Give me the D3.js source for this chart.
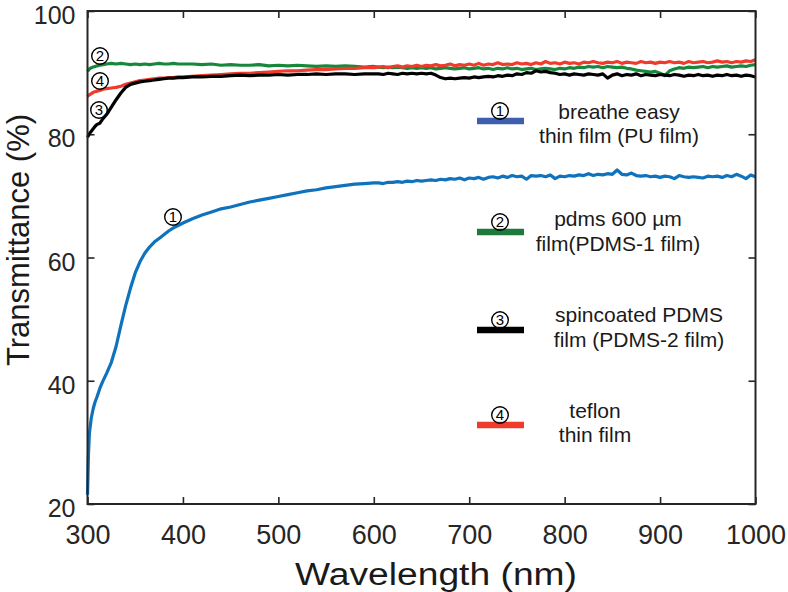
<!DOCTYPE html>
<html><head><meta charset="utf-8">
<script src="https://cdn.jsdelivr.net/npm/d3@7"></script>
<style>body{margin:0;background:#fff}svg{display:block}</style>
</head><body>
<svg id="c" width="788" height="592"></svg>
<script>
const wavelength = [300,301,302,304,306,308,310,313,316,320,325,330,335,340,345,350,355,360,365,370,375,380,385,390,395,400,
410,420,430,440,450,460,470,480,490,500,510,520,530,540,550,560,570,580,590,600,
605,610,615,620,625,630,635,640,645,650,655,660,665,670,675,680,685,690,695,700,
705,710,715,720,725,730,735,740,745,750,755,760,765,770,775,780,785,790,795,800,
805,810,815,820,825,830,835,840,845,850,855,860,865,870,875,880,885,890,895,900,
905,910,915,920,925,930,935,940,945,950,955,960,965,970,975,980,985,990,995,1000];

const puFilm = [21.5,28,31.5,34,35.5,36.6,37.4,38.8,39.9,41.2,43.0,45.6,49.0,52.2,55.0,57.5,59.3,60.7,61.7,62.5,63.1,63.7,64.3,64.8,65.2,65.6,
66.3,66.9,67.4,67.9,68.2,68.6,69.0,69.3,69.6,69.9,70.2,70.5,70.8,71.0,71.3,71.5,71.7,71.9,72.0,72.1,
72.1,72.0,72.2,72.2,72.3,72.2,72.4,72.3,72.5,72.4,72.5,72.6,72.5,72.7,72.6,72.8,72.7,72.9,72.6,72.9,
72.8,73.0,72.7,73.0,73.1,72.9,73.2,73.0,73.3,73.1,73.2,72.7,73.3,73.2,73.3,73.1,73.4,72.8,73.2,73.1,
73.3,73.2,73.4,73.3,73.6,73.3,73.5,73.4,73.6,73.5,74.2,73.5,73.4,73.7,73.3,73.2,73.3,73.1,73.2,73.0,
73.2,73.1,72.8,73.3,73.1,73.0,73.1,73.0,72.9,73.2,73.1,73.2,73.0,73.3,73.1,73.5,73.2,72.8,73.4,73.1];

const pdms1Film = [90.2,90.4,90.6,90.8,90.9,91.0,91.1,91.2,91.3,91.4,91.5,91.4,91.5,91.4,91.3,91.4,91.3,91.4,91.3,91.4,91.5,91.4,91.4,91.5,91.4,91.4,
91.4,91.3,91.4,91.2,91.3,91.2,91.2,91.3,91.1,91.2,91.1,91.2,91.1,91.0,91.1,91.0,91.1,91.0,90.9,91.0,
90.9,90.8,90.9,90.8,90.9,90.8,90.7,90.8,90.7,90.8,90.7,90.8,90.6,90.7,90.8,90.7,90.6,90.7,90.8,90.6,
90.7,90.8,90.6,90.7,90.5,90.7,90.6,90.8,90.6,90.7,90.5,90.6,90.7,90.5,90.6,90.7,90.6,90.5,90.7,90.6,
90.8,90.7,90.9,90.8,91.0,90.9,91.0,90.8,91.0,90.9,90.8,90.9,90.7,90.6,90.4,90.3,90.2,90.1,90.2,89.9,
89.5,90.3,90.6,90.8,90.7,90.9,90.8,90.9,91.0,90.8,91.0,90.9,91.0,91.1,90.9,91.0,91.1,91.0,91.2,91.3];

const pdms2Film = [79.5,79.8,80.1,80.5,80.9,81.3,81.6,81.8,82.5,83.2,84.4,85.6,86.7,87.6,88.1,88.3,88.5,88.6,88.7,88.8,88.9,89.0,89.1,89.1,89.2,89.2,
89.3,89.3,89.4,89.4,89.5,89.6,89.5,89.6,89.6,89.7,89.6,89.7,89.7,89.8,89.7,89.8,89.8,89.7,89.8,89.8,
89.8,89.7,89.9,89.8,89.7,89.9,89.8,89.9,89.8,89.9,89.8,89.9,89.6,89.2,89.0,89.1,89.0,89.1,89.2,89.1,
89.3,89.2,89.3,89.4,89.3,89.5,89.4,89.6,89.5,89.8,89.7,90.0,89.9,90.3,90.1,90.2,90.0,89.9,89.7,89.8,
89.6,89.8,89.7,89.6,89.8,89.7,89.6,89.8,89.1,89.6,89.8,89.5,89.7,89.6,89.8,89.5,89.7,89.6,89.5,89.7,
89.6,89.5,89.7,89.6,89.4,89.6,89.5,89.7,89.5,89.6,89.4,89.6,89.5,89.7,89.5,89.6,89.4,89.6,89.5,89.3];

const teflonFilm = [86.1,86.3,86.4,86.6,86.8,86.9,87.0,87.1,87.3,87.4,87.5,87.6,87.8,88.1,88.3,88.5,88.7,88.8,88.9,89.0,89.1,89.1,89.2,89.2,89.3,89.3,
89.4,89.5,89.6,89.7,89.8,89.9,89.9,90.0,90.1,90.2,90.3,90.3,90.4,90.5,90.5,90.6,90.7,90.7,90.8,90.8,
90.9,91.0,90.8,91.0,91.1,90.9,91.1,91.0,91.2,91.0,91.2,91.1,91.3,91.1,91.2,91.4,91.1,91.3,91.2,91.4,
91.2,91.5,91.2,91.4,91.3,91.6,91.3,91.4,91.3,91.6,91.4,91.5,91.3,91.6,91.4,91.8,91.5,91.6,91.4,91.7,
91.5,91.6,91.4,91.7,91.6,91.8,91.6,91.5,91.7,91.6,91.8,91.5,91.7,91.6,91.5,91.8,91.6,91.7,91.5,91.7,
91.6,91.8,91.6,91.7,91.5,91.8,91.6,91.7,91.8,91.6,91.7,91.9,91.7,91.8,91.6,91.8,91.7,91.9,91.8,92.1];

const xTicks = [300,400,500,600,700,800,900,1000];
const yTicks = [20,40,60,80,100];

const seriesNames = ["1","2","3","4"];
const legendLines = [["breathe easy","thin film (PU film)"],["pdms 600 \u00b5m","film(PDMS-1 film)"],["spincoated PDMS","film (PDMS-2 film)"],["teflon","thin film"]];
const lineColors = ["#0f72bd","#17873c","#000000","#ef3b2c"];
const legendColors = ["#3f5fae","#1b7a3c","#000000","#ef3b2c"];

const svg = d3.select("#c");
const font = "'Liberation Sans', Arial, Helvetica, sans-serif";
const axisCol = "#262626";
const L = 87.5, R = 755.5, T = 11, B = 504;
const x = d3.scaleLinear().domain([300,1000]).range([L,R]);
const y = d3.scaleLinear().domain([20,100]).range([B,T]);

const ax = (g, axis) => { g.call(axis); g.select(".domain").remove();
  g.selectAll("line").attr("stroke",axisCol).attr("stroke-width",1.6);
  g.selectAll("text").attr("fill",axisCol).style("font-family",font); };
svg.append("g").attr("transform",`translate(0,${B})`)
  .call(g=>ax(g,d3.axisBottom(x).tickValues(xTicks).tickSizeInner(-7).tickSizeOuter(0).tickPadding(21).tickFormat(d3.format("d"))))
  .selectAll("text").style("font-size","27px");
svg.append("g").attr("transform",`translate(0,${T})`)
  .call(g=>ax(g,d3.axisTop(x).tickValues(xTicks).tickSizeInner(-7).tickSizeOuter(0).tickFormat("")));
svg.append("g").attr("transform",`translate(${L},0)`)
  .call(g=>ax(g,d3.axisLeft(y).tickValues(yTicks).tickSizeInner(-7).tickSizeOuter(0).tickPadding(12).tickFormat(d3.format("d"))))
  .selectAll("text").style("font-size","25px").attr("dy","0.5em");
svg.append("g").attr("transform",`translate(${R},0)`)
  .call(g=>ax(g,d3.axisRight(y).tickValues(yTicks).tickSizeInner(-7).tickSizeOuter(0).tickFormat("")));

const allSeries = [puFilm, pdms1Film, teflonFilm, pdms2Film];
const colorsOrder = [lineColors[0], lineColors[1], lineColors[3], lineColors[2]];
const line = d3.line().x((d,i)=>x(wavelength[i])).y(d=>y(d));
allSeries.forEach((s,k)=>{
  svg.append("path").datum(s).attr("d",line).attr("fill","none")
    .attr("stroke",colorsOrder[k]).attr("stroke-width",3.2).attr("stroke-linejoin","round");
});

svg.append("rect").attr("x",L).attr("y",T).attr("width",R-L).attr("height",B-T)
  .attr("fill","none").attr("stroke",axisCol).attr("stroke-width",2);

function circled(cx, cy, label){
  svg.append("circle").attr("cx",cx).attr("cy",cy).attr("r",8.3).attr("fill","none")
    .attr("stroke","#000").attr("stroke-width",1.4);
  svg.append("text").attr("x",cx).attr("y",cy+5.3).attr("text-anchor","middle")
    .style("font-family",font).style("font-size","15px").attr("fill","#000").text(label);
}
circled(100,56,"2"); circled(100,81,"4"); circled(99,110,"3"); circled(173,217,"1");

const legY = [121,232,330,425];
const legTextX = [619,618,639,595];
const legBase = [[119,143],[226,251],[322,347],[418,442]];
legY.forEach((ly,i)=>{
  svg.append("line").attr("x1",477).attr("x2",524).attr("y1",ly).attr("y2",ly)
    .attr("stroke",legendColors[i]).attr("stroke-width",6.5);
  circled(500, ly-10, seriesNames[i]);
  legendLines[i].forEach((t,j)=>{
    svg.append("text").attr("x",legTextX[i]).attr("y",legBase[i][j]).attr("text-anchor","middle")
      .style("font-family",font).style("font-size","21px").attr("fill","#1a1a1a").text(t);
  });
});

svg.append("text").attr("x",436).attr("y",585).attr("text-anchor","middle")
  .attr("textLength",282).attr("lengthAdjust","spacingAndGlyphs")
  .style("font-family",font).style("font-size","31px").attr("fill","#1a1a1a").text("Wavelength (nm)");
svg.append("text").attr("transform","translate(29,240) rotate(-90)").attr("text-anchor","middle")
  .style("font-family",font).style("font-size","31px").attr("fill","#1a1a1a").text("Transmittance (%)");
</script>
</body></html>
